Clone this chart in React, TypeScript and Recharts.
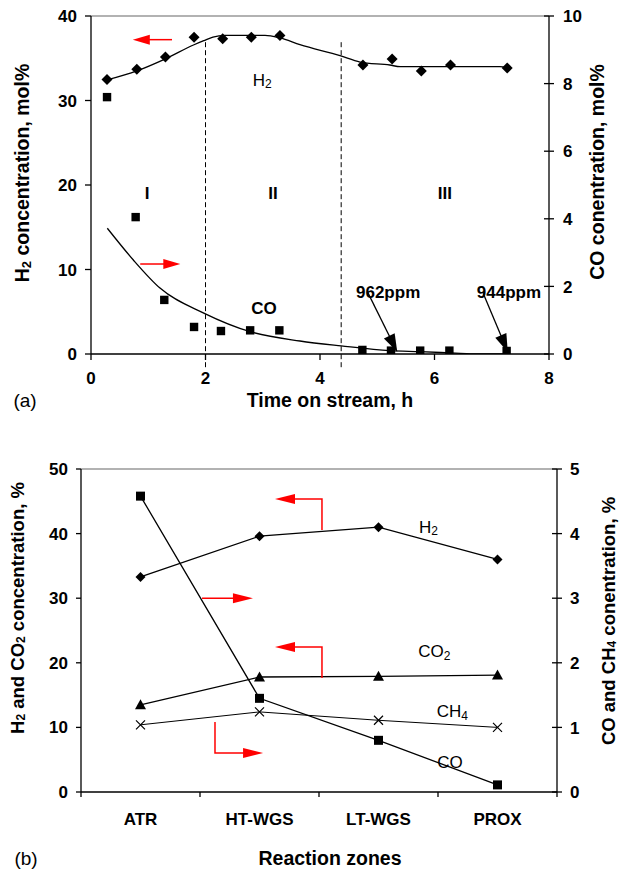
import React from 'react';
import { ComposedChart, Line, Scatter, XAxis, YAxis, ReferenceLine, ReferenceDot } from 'recharts';

const FONT = '"Liberation Sans", Arial, Helvetica, sans-serif';

// ---------- (a) Time on stream ----------
const h2Time = [0.28, 0.8, 1.3, 1.8, 2.3, 2.8, 3.3, 4.75, 5.26, 5.77, 6.28, 7.27];
const h2Conc = [32.5, 33.7, 35.15, 37.5, 37.3, 37.5, 37.7, 34.2, 34.9, 33.5, 34.2, 33.85];
const coTime = [0.28, 0.78, 1.28, 1.8, 2.27, 2.78, 3.29, 4.74, 5.24, 5.75, 6.26, 7.26];
const coConc = [7.6, 4.05, 1.6, 0.8, 0.68, 0.7, 0.7, 0.12, 0.1, 0.1, 0.1, 0.09];
const h2FitTime = [0.28, 0.8, 1.29, 1.8, 1.97, 2.13, 2.34, 3.04, 3.3, 3.65, 4.35, 4.7, 5.22, 5.4, 7.14, 7.27];
const h2FitConc = [32.43, 33.5, 34.9, 36.6, 37.08, 37.5, 37.7, 37.7, 37.4, 36.6, 35.3, 34.55, 34.2, 34.0, 34.0, 33.85];
const coFitTime = [0.285, 0.74, 1.205, 1.97, 2.78, 3.65, 4.37, 5.22, 5.75, 6.45, 6.8, 7.27];
const coFitConc = [3.72, 2.78, 1.95, 1.21, 0.66, 0.385, 0.24, 0.1, 0.07, 0.02, 0.0, 0.0];
const timeTicks = [0, 2, 4, 6, 8];
const h2Ticks = [0, 10, 20, 30, 40];
const coTicks = [0, 2, 4, 6, 8, 10];
const zoneBounds = [2.0, 4.37];

// ---------- (b) Reaction zones ----------
const zones = ['ATR', 'HT-WGS', 'LT-WGS', 'PROX'];
const h2Zone = [33.3, 39.6, 41.0, 36.0];
const co2Zone = [13.5, 17.8, 17.9, 18.1];
const ch4Zone = [1.04, 1.24, 1.11, 1.0];
const coZone = [4.58, 1.45, 0.8, 0.11];
const leftTicksB = [0, 10, 20, 30, 40, 50];
const rightTicksB = [0, 1, 2, 3, 4, 5];
const edgeTicks = [0, 1, 2, 3, 4];
const zoneCenters = zones.map((_, i) => i + 0.5);

const toPts = (ts: number[], vs: number[]) => ts.map((t, i) => ({ t, v: vs[i] }));
const h2Pts = toPts(h2Time, h2Conc);
const coPts = toPts(coTime, coConc);
const h2Fit = toPts(h2FitTime, h2FitConc);
const coFit = toPts(coFitTime, coFitConc);

const zonePts = (vs: number[]) => vs.map((v, i) => ({ x: zoneCenters[i], v }));
const h2B = zonePts(h2Zone);
const co2B = zonePts(co2Zone);
const ch4B = zonePts(ch4Zone);
const coB = zonePts(coZone);

// ---------- shapes ----------
const diamond = (s: number) => (p: any) =>
  p.cx == null ? <g /> : (
    <path d={`M${p.cx},${p.cy - s}L${p.cx + s},${p.cy}L${p.cx},${p.cy + s}L${p.cx - s},${p.cy}Z`} fill="#000" />
  );
const square = (s: number) => (p: any) =>
  p.cx == null ? <g /> : <rect x={p.cx - s} y={p.cy - s} width={2 * s} height={2 * s} fill="#000" />;
const triangle = (s: number) => (p: any) =>
  p.cx == null ? <g /> : (
    <path d={`M${p.cx},${p.cy - s}L${p.cx + s},${p.cy + s * 0.8}L${p.cx - s},${p.cy + s * 0.8}Z`} fill="#000" />
  );
const cross = (s: number) => (p: any) =>
  p.cx == null ? <g /> : (
    <path d={`M${p.cx - s},${p.cy - s}L${p.cx + s},${p.cy + s}M${p.cx - s},${p.cy + s}L${p.cx + s},${p.cy - s}`} stroke="#000" strokeWidth={1.2} fill="none" />
  );

function head(x2: number, y2: number, ux: number, uy: number, len: number, half: number, fill: string) {
  const bx = x2 - ux * len;
  const by = y2 - uy * len;
  return (
    <path
      d={`M${x2},${y2}L${bx - uy * half},${by + ux * half}L${bx + uy * half},${by - ux * half}Z`}
      fill={fill}
      stroke="none"
    />
  );
}
const straightArrow = (color: string, w: number, len: number, half: number) => (p: any) => {
  const { x1, y1, x2, y2 } = p;
  const L = Math.hypot(x2 - x1, y2 - y1) || 1;
  const ux = (x2 - x1) / L;
  const uy = (y2 - y1) / L;
  return (
    <g>
      <line x1={x1} y1={y1} x2={x2 - ux * len * 0.7} y2={y2 - uy * len * 0.7} stroke={color} strokeWidth={w} />
      {head(x2, y2, ux, uy, len, half, color)}
    </g>
  );
};
const elbowArrow = (color: string, w: number, len: number, half: number) => (p: any) => {
  const { x1, y1, x2, y2 } = p;
  const ux = Math.sign(x2 - x1) || 1;
  return (
    <g>
      <polyline points={`${x1},${y1} ${x1},${y2} ${x2 - ux * len * 0.7},${y2}`} fill="none" stroke={color} strokeWidth={w} />
      {head(x2, y2, ux, 0, len, half, color)}
    </g>
  );
};
const dashedLine = (p: any) => (
  <line x1={p.x1} y1={p.y1} x2={p.x2} y2={p.y2} stroke="#000" strokeWidth={1} strokeDasharray="5 3" />
);

const textMark = (content: React.ReactNode, size: number, bold: boolean) => (p: any) => (
  <text
    x={p.cx}
    y={p.cy}
    textAnchor="middle"
    dominantBaseline="central"
    fontFamily={FONT}
    fontSize={size}
    fontWeight={bold ? 'bold' : 'normal'}
    fill="#000"
  >
    {content}
  </text>
);
const sub = (base: string, s: string, rest = '', size = 12) => (
  <>
    {base}
    <tspan dy={4} fontSize={size}>{s}</tspan>
    <tspan dy={-4}>{rest}</tspan>
  </>
);

const TICK_FS = 17;
const tickStyle = { fill: '#000', fontSize: TICK_FS, fontWeight: 'bold', fontFamily: FONT } as any;
const axisLineStyle = { stroke: '#000', strokeWidth: 1.3 };
const tickLineStyle = { stroke: '#000', strokeWidth: 1.3 };

// right-axis tick that crosses the axis line (outer part is the normal tickLine)
const rightTick = (size: number, margin: number) => (p: any) => {
  const ax = p.x - size - margin;
  return (
    <g>
      <line x1={ax - size} x2={ax} y1={p.y} y2={p.y} stroke="#000" strokeWidth={1.3} />
      <text x={p.x} y={p.y} dy="0.36em" textAnchor="start" fontFamily={FONT} fontSize={TICK_FS} fontWeight="bold" fill="#000">
        {p.payload.value}
      </text>
    </g>
  );
};

const vTitle = (cx: number, cy: number, content: React.ReactNode, size = 19.5) => (
  <text
    transform={`translate(${cx},${cy}) rotate(-90)`}
    textAnchor="middle"
    dominantBaseline="central"
    fontFamily={FONT}
    fontSize={size}
    fontWeight="bold"
    fill="#000"
  >
    {content}
  </text>
);

function TopChart() {
  const redArrow = straightArrow('#ff0000', 1.5, 17, 5);
  const blackArrow = straightArrow('#000', 1.3, 18, 6);
  return (
    <ComposedChart width={619} height={430} margin={{ top: 16, right: 0, left: 0, bottom: 46 }}>
      <XAxis
        dataKey="t"
        type="number"
        domain={[0, 8]}
        ticks={timeTicks}
        allowDataOverflow
        height={30}
        tick={tickStyle}
        tickSize={6}
        tickMargin={12}
        axisLine={axisLineStyle}
        tickLine={tickLineStyle}
        label={{
          content: (p: any) => (
            <g>
              <text x={330} y={p.viewBox.y + 53} textAnchor="middle" fontFamily={FONT} fontSize={19.5} fontWeight="bold" fill="#000">
                Time on stream, h
              </text>
              <text x={25} y={p.viewBox.y + 53} textAnchor="middle" fontFamily={FONT} fontSize={19} fill="#000">
                (a)
              </text>
            </g>
          ),
        }}
      />
      <YAxis
        yAxisId="L"
        width={91}
        domain={[0, 40]}
        ticks={h2Ticks}
        allowDataOverflow
        tick={tickStyle}
        tickSize={6}
        tickMargin={8}
        axisLine={axisLineStyle}
        tickLine={tickLineStyle}
        label={{ content: () => vTitle(22, 173, sub('H', '2', ' concentration, mol%', 13)) }}
      />
      <YAxis
        yAxisId="R"
        orientation="right"
        width={70}
        domain={[0, 10]}
        ticks={coTicks}
        allowDataOverflow
        tick={rightTick(5, 9)}
        tickSize={5}
        tickMargin={9}
        axisLine={axisLineStyle}
        tickLine={tickLineStyle}
        label={{ content: () => vTitle(597, 172, 'CO conentration, mol%') }}
      />
      <ReferenceLine yAxisId="L" y={40} stroke="#999" strokeWidth={1.5} />
      {zoneBounds.map((b) => (
        <ReferenceLine
          key={b}
          yAxisId="L"
          segment={[{ x: b, y: 36.9 }, { x: b, y: -1.7 }]}
          ifOverflow="visible"
          shape={dashedLine}
        />
      ))}
      <Line yAxisId="L" data={h2Fit} dataKey="v" type="monotone" stroke="#000" strokeWidth={1.3} dot={false} isAnimationActive={false} />
      <Line yAxisId="R" data={coFit} dataKey="v" type="monotone" stroke="#000" strokeWidth={1.3} dot={false} isAnimationActive={false} />
      <Scatter yAxisId="L" data={h2Pts} dataKey="v" shape={diamond(5.5)} isAnimationActive={false} />
      <Scatter yAxisId="R" data={coPts} dataKey="v" shape={square(4.2)} isAnimationActive={false} />
      <ReferenceLine yAxisId="L" segment={[{ x: 1.415, y: 37.2 }, { x: 0.73, y: 37.2 }]} ifOverflow="visible" shape={redArrow} />
      <ReferenceLine yAxisId="L" segment={[{ x: 0.86, y: 10.65 }, { x: 1.56, y: 10.65 }]} ifOverflow="visible" shape={redArrow} />
      <ReferenceLine yAxisId="R" segment={[{ x: 4.84, y: 1.8 }, { x: 5.35, y: 0.06 }]} ifOverflow="visible" shape={blackArrow} />
      <ReferenceLine yAxisId="R" segment={[{ x: 6.85, y: 1.8 }, { x: 7.28, y: 0.06 }]} ifOverflow="visible" shape={blackArrow} />
      <ReferenceDot yAxisId="R" x={5.19} y={1.83} ifOverflow="visible" shape={textMark('962ppm', 17, true)} />
      <ReferenceDot yAxisId="R" x={7.3} y={1.83} ifOverflow="visible" shape={textMark('944ppm', 17, true)} />
      <ReferenceDot yAxisId="L" x={0.98} y={19.05} ifOverflow="visible" shape={textMark('I', 17, true)} />
      <ReferenceDot yAxisId="L" x={3.18} y={19.05} ifOverflow="visible" shape={textMark('II', 17, true)} />
      <ReferenceDot yAxisId="L" x={6.18} y={19.05} ifOverflow="visible" shape={textMark('III', 17, true)} />
      <ReferenceDot yAxisId="L" x={2.99} y={32.4} ifOverflow="visible" shape={textMark(sub('H', '2'), 17, false)} />
      <ReferenceDot yAxisId="L" x={3.02} y={5.44} ifOverflow="visible" shape={textMark('CO', 17, true)} />
    </ComposedChart>
  );
}

function BottomChart() {
  const redArrow = straightArrow('#ff0000', 1.5, 20, 5);
  const redElbow = elbowArrow('#ff0000', 1.5, 20, 5);
  return (
    <ComposedChart width={619} height={441} margin={{ top: 39, right: 0, left: 0, bottom: 44 }}>
      <XAxis
        xAxisId="edge"
        dataKey="x"
        type="number"
        domain={[0, 4]}
        ticks={edgeTicks}
        allowDataOverflow
        height={5}
        tick={{ fontSize: 1, fill: 'none' }}
        tickFormatter={() => ''}
        tickSize={5}
        tickMargin={0}
        axisLine={axisLineStyle}
        tickLine={tickLineStyle}
      />
      <XAxis
        xAxisId="lab"
        dataKey="x"
        type="number"
        domain={[0, 4]}
        ticks={zoneCenters}
        allowDataOverflow
        tickFormatter={(v: number) => zones[Math.floor(v)]}
        height={30}
        tick={tickStyle}
        tickSize={0}
        tickMargin={16}
        axisLine={false}
        tickLine={false}
        label={{
          content: (p: any) => (
            <g>
              <text x={330} y={435} textAnchor="middle" fontFamily={FONT} fontSize={19.5} fontWeight="bold" fill="#000">
                Reaction zones
              </text>
              <text x={26} y={435} textAnchor="middle" fontFamily={FONT} fontSize={19} fill="#000">
                (b)
              </text>
            </g>
          ),
        }}
      />
      <YAxis
        yAxisId="L"
        width={81}
        domain={[0, 50]}
        ticks={leftTicksB}
        allowDataOverflow
        tick={tickStyle}
        tickSize={5}
        tickMargin={8}
        axisLine={axisLineStyle}
        tickLine={tickLineStyle}
        label={{
          content: () =>
            vTitle(
              17,
              178,
              <>
                {sub('H', '2', ' and CO', 12)}
                <tspan dy={4} fontSize={12}>2</tspan>
                <tspan dy={-4}> concentration, %</tspan>
              </>,
              18.5
            ),
        }}
      />
      <YAxis
        yAxisId="R"
        orientation="right"
        width={62}
        domain={[0, 5]}
        ticks={rightTicksB}
        allowDataOverflow
        tick={rightTick(5, 8)}
        tickSize={5}
        tickMargin={8}
        axisLine={axisLineStyle}
        tickLine={tickLineStyle}
        label={{
          content: () =>
            vTitle(
              608,
              191,
              <>
                {'CO and CH'}
                <tspan dy={4} fontSize={12}>4</tspan>
                <tspan dy={-4}> conentration, %</tspan>
              </>,
              18.5
            ),
        }}
      />
      <ReferenceLine xAxisId="edge" yAxisId="L" y={50} stroke="#999" strokeWidth={1.5} />
      <Line xAxisId="edge" yAxisId="L" data={h2B} dataKey="v" stroke="#000" strokeWidth={1.3} dot={diamond(5)} isAnimationActive={false} />
      <Line xAxisId="edge" yAxisId="L" data={co2B} dataKey="v" stroke="#000" strokeWidth={1.3} dot={triangle(5.5)} isAnimationActive={false} />
      <Line xAxisId="edge" yAxisId="R" data={ch4B} dataKey="v" stroke="#000" strokeWidth={1} dot={cross(4.5)} isAnimationActive={false} />
      <Line xAxisId="edge" yAxisId="R" data={coB} dataKey="v" stroke="#000" strokeWidth={1.3} dot={square(4.5)} isAnimationActive={false} />
      <ReferenceLine xAxisId="edge" yAxisId="L" segment={[{ x: 2.025, y: 40.55 }, { x: 1.63, y: 45.35 }]} ifOverflow="visible" shape={redElbow} />
      <ReferenceLine xAxisId="edge" yAxisId="L" segment={[{ x: 2.025, y: 17.65 }, { x: 1.63, y: 22.45 }]} ifOverflow="visible" shape={redElbow} />
      <ReferenceLine xAxisId="edge" yAxisId="L" segment={[{ x: 1.017, y: 30.0 }, { x: 1.445, y: 30.0 }]} ifOverflow="visible" shape={redArrow} />
      <ReferenceLine xAxisId="edge" yAxisId="L" segment={[{ x: 1.126, y: 10.84 }, { x: 1.53, y: 6.04 }]} ifOverflow="visible" shape={redElbow} />
      <ReferenceDot xAxisId="edge" yAxisId="L" x={2.92} y={41.0} ifOverflow="visible" shape={textMark(sub('H', '2'), 17, false)} />
      <ReferenceDot xAxisId="edge" yAxisId="L" x={2.97} y={21.7} ifOverflow="visible" shape={textMark(sub('CO', '2'), 17, false)} />
      <ReferenceDot xAxisId="edge" yAxisId="L" x={3.12} y={12.4} ifOverflow="visible" shape={textMark(sub('CH', '4'), 17, false)} />
      <ReferenceDot xAxisId="edge" yAxisId="L" x={3.1} y={4.6} ifOverflow="visible" shape={textMark('CO', 17, false)} />
    </ComposedChart>
  );
}

export default function App() {
  return (
    <div style={{ position: 'absolute', left: 0, top: 0, width: 619, height: 871, background: '#fff' }}>
      <div style={{ position: 'absolute', left: 0, top: 0 }}>
        <TopChart />
      </div>
      <div style={{ position: 'absolute', left: 0, top: 430 }}>
        <BottomChart />
      </div>
    </div>
  );
}
